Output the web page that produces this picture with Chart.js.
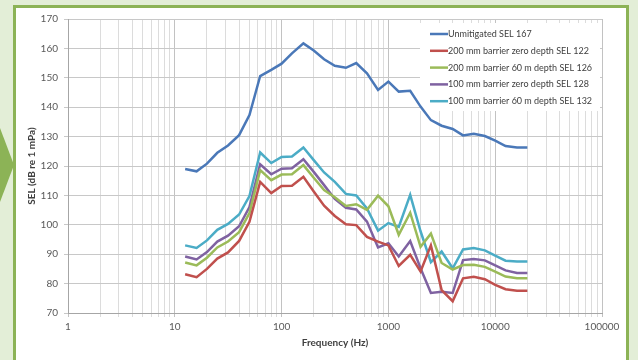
<!DOCTYPE html>
<html>
<head>
<meta charset="utf-8">
<script src="https://cdn.jsdelivr.net/npm/chart.js@4.4.0/dist/chart.umd.min.js"></script>
<style>
  html, body { margin: 0; padding: 0; }
  body { width: 638px; height: 360px; background: #e3eed7; position: relative; overflow: hidden; }
  #panel { position: absolute; left: 13px; top: 5px; width: 610px; height: 360px; background: #fff; border: 3px solid #8cb356; border-bottom: none; }
  #arrow { position: absolute; left: 0; top: 128px; width: 0; height: 0; border-top: 37px solid transparent; border-bottom: 37px solid transparent; border-left: 14px solid #8cb356; }
  #chart { position: absolute; left: 0; top: 0; }
</style>
</head>
<body>
<div id="panel"></div>
<div id="arrow"></div>
<canvas id="chart" width="638" height="360"></canvas>
<script>
// 1/3 octave band centre frequencies (Hz)
var freqs = [12.5, 16, 20, 25, 31.5, 40, 50, 63, 80, 100, 125, 160, 200, 250, 315, 400, 500, 630, 800,
             1000, 1250, 1600, 2000, 2500, 3150, 4000, 5000, 6300, 8000, 10000, 12500, 16000, 20000];

var unmitigated = [119, 118.2, 120.8, 124.5, 127, 130.5, 137.3, 150.6, 152.7, 154.8, 158.3, 161.7, 159.3, 156.3, 154.1, 153.4, 155.0, 151.5, 145.9,
                   148.7, 145.3, 145.6, 140.2, 135.6, 133.7, 132.6, 130.4, 131.0, 130.2, 128.6, 126.8, 126.3, 126.3];
var b200zero = [83.2, 82.2, 85.0, 88.5, 90.6, 94.5, 101.0, 114.6, 110.8, 113.2, 113.3, 116.3, 111.3, 106.5, 103.0, 100.2, 99.9, 95.9, 94.3,
                93.0, 86.0, 89.8, 84.1, 93.0, 77.8, 74.0, 81.8, 82.3, 81.5, 79.6, 78.1, 77.6, 77.6];
var b200deep = [87.2, 86.2, 88.8, 92.3, 94.3, 97.5, 104.0, 118.6, 115.2, 117.1, 117.2, 120.3, 116.0, 111.8, 109.4, 106.4, 107.0, 105.1, 109.9,
                106.3, 96.6, 104.1, 92.5, 97.0, 87.0, 84.8, 86.3, 86.4, 85.7, 84.1, 82.4, 81.8, 81.8];
var b100zero = [89.2, 88.2, 90.7, 94.3, 96.3, 99.5, 106.0, 120.6, 117.2, 119.1, 119.2, 122.3, 118.0, 113.5, 108.8, 105.8, 105.2, 101.1, 92.3,
                93.7, 89.2, 94.5, 85.2, 76.8, 77.2, 76.8, 88.0, 88.4, 87.9, 86.2, 84.5, 83.6, 83.6];
var b100deep = [93.0, 92.1, 94.7, 98.3, 100.3, 103.5, 109.8, 124.6, 121.0, 123.1, 123.2, 126.3, 122.0, 117.8, 114.6, 110.5, 110.0, 105.6, 98.0,
                100.6, 99.3, 110.2, 97.8, 87.3, 90.9, 85.2, 91.6, 92.1, 91.3, 89.5, 87.8, 87.5, 87.5];

var seriesNames = ['Unmitigated SEL 167', '200 mm barrier zero depth SEL 122', '200 mm barrier 60 m depth SEL 126',
                   '100 mm barrier zero depth SEL 128', '100 mm barrier 60 m depth SEL 132'];
var seriesData = [unmitigated, b200zero, b200deep, b100zero, b100deep];
var seriesColors = ['#4a78b8', '#c0504d', '#9bbb59', '#7f62a1', '#4bacc6'];

var decades = [1, 10, 100, 1000, 10000, 100000];
var yMin = 70, yMax = 170, yStep = 10;

// log axis ticks: 1..9 in every decade, plus the last one
var xTicks = [];
for (var d = 0; d < decades.length - 1; d++) {
    for (var m = 1; m < 10; m++) xTicks.push(decades[d] * m);
}
xTicks.push(decades[decades.length - 1]);

var legendBox = {
    id: 'legendBox',
    beforeDatasetsDraw: function(chart) {
        var c = chart.ctx;
        c.save();
        c.fillStyle = '#fff';
        c.fillRect(420, 23, 180, 88);
        c.font = '9px Lato';
        c.textBaseline = 'middle';
        chart.data.datasets.forEach(function(ds, i) {
            var y = 34 + i * 16.8;
            c.strokeStyle = ds.borderColor;
            c.lineWidth = 2.5;
            c.beginPath();
            c.moveTo(430, y);
            c.lineTo(448, y);
            c.stroke();
            c.fillStyle = '#404040';
            c.fillText(ds.label, 448, y);
        });
        c.restore();
    }
};

Chart.defaults.font.family = 'Lato';

var ctx = document.getElementById('chart');
new Chart(ctx, {
    type: 'line',
    data: {
        datasets: seriesData.map(function(vals, i) {
            return {
                label: seriesNames[i],
                data: freqs.map(function(f, j) { return {x: f, y: vals[j]}; }),
                borderColor: seriesColors[i],
                backgroundColor: seriesColors[i],
                borderWidth: 2.5,
                pointRadius: 0,
                tension: 0,
                fill: false
            };
        })
    },
    options: {
        responsive: false,
        animation: false,
        layout: {padding: {top: 19, right: 36, left: 0, bottom: 0}},
        plugins: {legend: {display: false}, tooltip: {enabled: false}},
        scales: {
            x: {
                type: 'logarithmic',
                min: 1,
                max: 100000,
                afterBuildTicks: function(s) { s.ticks = xTicks.map(function(v) { return {value: v}; }); },
                afterFit: function(s) { s.height = 47; },
                ticks: {
                    autoSkip: false,
                    maxRotation: 0,
                    padding: 4,
                    color: '#595959',
                    font: {size: 10},
                    callback: function(v) { return decades.indexOf(v) >= 0 ? String(v) : ''; }
                },
                grid: {
                    color: function(c) { return decades.indexOf(c.tick.value) >= 0 ? '#c2c2c2' : '#dcdcdc'; },
                    tickLength: 4
                },
                border: {color: '#a6a6a6'},
                title: {
                    display: true, text: 'Frequency (Hz)', color: '#404040',
                    font: {size: 10, weight: 'bold'}, padding: {top: 0, bottom: 11}
                }
            },
            y: {
                min: yMin,
                max: yMax,
                afterFit: function(s) { s.width = 68; },
                ticks: {stepSize: yStep, padding: 6, color: '#595959', font: {size: 10}},
                grid: {color: '#c8c8c8', tickLength: 4},
                border: {color: '#a6a6a6'},
                title: {
                    display: true, text: 'SEL (dB re 1 mPa)', color: '#404040',
                    font: {size: 10, weight: 'bold'}, padding: {top: 26, bottom: 0}
                }
            }
        }
    },
    plugins: [legendBox]
});
</script>
</body>
</html>
